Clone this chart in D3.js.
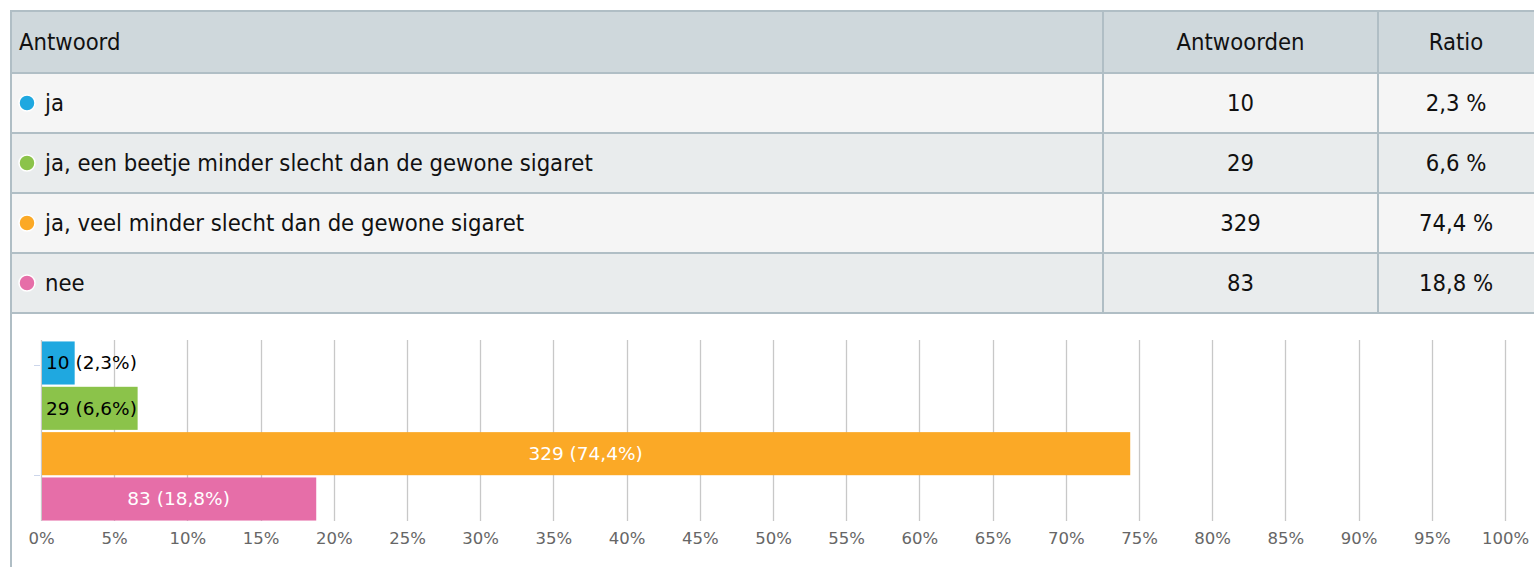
<!DOCTYPE html>
<html><head><meta charset="utf-8">
<script src="https://cdn.jsdelivr.net/npm/d3@7/dist/d3.min.js"></script>
<style>
html,body{margin:0;padding:0;background:#fff;overflow:hidden;}
svg{display:block;}
</style></head>
<body>
<svg id="c" width="1534" height="567"></svg>
<script>
const categories = ["ja", "ja, een beetje minder slecht dan de gewone sigaret", "ja, veel minder slecht dan de gewone sigaret", "nee"];
const counts = [10, 29, 329, 83];
const ratios = [2.3, 6.6, 74.4, 18.8];
const colors = ["#1fa8e0", "#8bc34a", "#fba926", "#e66ea8"];
const headers = ["Antwoord", "Antwoorden", "Ratio"];
const xTicks = d3.range(0, 101, 5);

const svg = d3.select("#c");
const tableFont = "'Liberation Sans Narrow','DejaVu Sans Condensed','Roboto Condensed',sans-serif";
const chartFont = "'DejaVu Sans',sans-serif";
const fmt = v => String(v).replace(".", ",");

const tLeft = 11, tRight = 1534, col1 = 1103, col2 = 1378;
const headTop = 11, headH = 62, rowH = 60;
const rowY = d3.scaleBand().domain(d3.range(categories.length)).range([headTop + headH, headTop + headH + rowH * categories.length]).padding(0);

svg.append("rect").attr("x", tLeft).attr("y", headTop).attr("width", tRight - tLeft).attr("height", headH).attr("fill", "#cfd8dc");
svg.selectAll("rect.row").data(categories).join("rect").attr("class", "row")
  .attr("x", tLeft).attr("y", (d, i) => rowY(i)).attr("width", tRight - tLeft).attr("height", rowH)
  .attr("fill", (d, i) => i % 2 === 0 ? "#f5f5f5" : "#e9eced");

const bc = "#b0bec5";
const hLines = [headTop, headTop + headH].concat(d3.range(categories.length).map(i => rowY(i) + rowH));
svg.selectAll("line.h").data(hLines).join("line").attr("class", "h")
  .attr("x1", tLeft - 1).attr("x2", tRight).attr("y1", d => d).attr("y2", d => d)
  .attr("stroke", bc).attr("stroke-width", 2);
[col1, col2].forEach(x => svg.append("line").attr("x1", x).attr("x2", x).attr("y1", headTop).attr("y2", rowY(categories.length - 1) + rowH).attr("stroke", bc).attr("stroke-width", 2));
svg.append("line").attr("x1", tLeft).attr("x2", tLeft).attr("y1", headTop - 1).attr("y2", 567).attr("stroke", bc).attr("stroke-width", 2);

const tg = svg.append("g").attr("font-family", tableFont).attr("font-size", 23.6).attr("fill", "#111");
const hy = headTop + headH / 2;
tg.append("text").attr("x", 19).attr("y", hy).attr("dy", "0.35em").text(headers[0]);
tg.append("text").attr("x", (col1 + col2) / 2).attr("y", hy).attr("dy", "0.35em").attr("text-anchor", "middle").text(headers[1]);
tg.append("text").attr("x", (col2 + tRight) / 2).attr("y", hy).attr("dy", "0.35em").attr("text-anchor", "middle").text(headers[2]);

const rows = tg.selectAll("g.r").data(categories).join("g").attr("class", "r")
  .attr("transform", (d, i) => `translate(0,${rowY(i) + rowH / 2})`);
rows.append("circle").attr("cx", 27).attr("cy", 0).attr("r", 8).attr("fill", (d, i) => colors[i]).attr("stroke", "#fff").attr("stroke-width", 1.5);
rows.append("text").attr("x", 45).attr("dy", "0.35em").text(d => d);
rows.append("text").attr("x", (col1 + col2) / 2).attr("dy", "0.35em").attr("text-anchor", "middle").text((d, i) => counts[i]);
rows.append("text").attr("x", (col2 + tRight) / 2).attr("dy", "0.35em").attr("text-anchor", "middle").text((d, i) => fmt(ratios[i]) + " %");

const x = d3.scaleLinear().domain([0, 100]).range([41, 1505]);
const y = d3.scaleBand().domain(d3.range(categories.length)).range([341, 521]).paddingInner(0.05).paddingOuter(0.01);
const plotTop = 340, plotBottom = 521;

const g = svg.append("g");
g.selectAll("line.grid").data(xTicks).join("line").attr("class", "grid")
  .attr("x1", d => Math.round(x(d)) + 0.5).attr("x2", d => Math.round(x(d)) + 0.5)
  .attr("y1", plotTop).attr("y2", plotBottom).attr("stroke", "#c8c8c8").attr("stroke-width", 1.3);

g.selectAll("line.yt").data([365, 475]).join("line").attr("class", "yt")
  .attr("x1", 34).attr("x2", 40).attr("y1", d => d + 0.5).attr("y2", d => d + 0.5).attr("stroke", "#ccd6eb");

const xAxis = d3.axisBottom(x).tickValues(xTicks).tickFormat(d => d + "%").tickSize(0).tickPadding(10);
const ax = g.append("g").attr("transform", `translate(0,${plotBottom})`).call(xAxis);
ax.select(".domain").remove();
ax.attr("font-family", chartFont).attr("font-size", 16.5);
ax.selectAll("text").attr("fill", "#666").attr("dy", "0.71em").attr("y", 11);

g.selectAll("rect.bar").data(ratios).join("rect").attr("class", "bar")
  .attr("x", x(0) + 1).attr("y", (d, i) => y(i)).attr("height", y.bandwidth())
  .attr("width", d => x(d) - x(0) - 1).attr("fill", (d, i) => colors[i]);

g.selectAll("text.lbl").data(ratios).join("text").attr("class", "lbl")
  .attr("x", d => d < 10 ? x(0) + 5 : (x(0) + x(d)) / 2)
  .attr("y", (d, i) => y(i) + y.bandwidth() / 2).attr("dy", "0.35em")
  .attr("text-anchor", d => d < 10 ? "start" : "middle")
  .attr("fill", d => d < 10 ? "#000" : "#fff")
  .attr("font-family", chartFont).attr("font-size", 18.5)
  .text((d, i) => `${counts[i]} (${fmt(d)}%)`);
</script>
</body></html>
